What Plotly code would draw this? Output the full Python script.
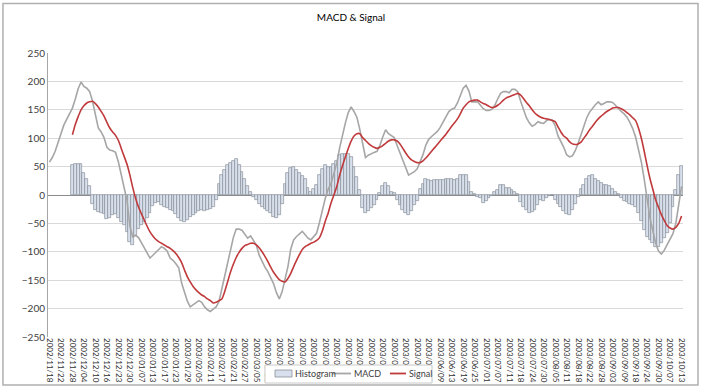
import plotly.graph_objects as go

tick_labels = [
    "2002/11/18", "2002/11/22", "2002/11/28", "2002/12/04", "2002/12/10", "2002/12/16",
    "2002/12/23", "2002/12/30", "2003/01/07", "2003/01/13", "2003/01/17", "2003/01/23",
    "2003/01/29", "2003/02/05", "2003/02/11", "2003/02/17", "2003/02/21", "2003/02/27",
    "2003/03/05", "2003/03/11", "2003/03/17", "2003/03/21", "2003/03/27", "2003/04/02",
    "2003/04/08", "2003/04/14", "2003/04/18", "2003/04/24", "2003/04/30", "2003/05/09",
    "2003/05/15", "2003/05/21", "2003/05/27", "2003/06/02", "2003/06/09", "2003/06/13",
    "2003/06/19", "2003/06/25", "2003/07/01", "2003/07/07", "2003/07/11", "2003/07/18",
    "2003/07/24", "2003/07/30", "2003/08/05", "2003/08/11", "2003/08/18", "2003/08/22",
    "2003/08/28", "2003/09/03", "2003/09/09", "2003/09/18", "2003/09/24", "2003/09/30",
    "2003/10/07", "2003/10/13",
]

series_names = ["Histogram", "MACD", "Signal"]

macd = [
    58, 66, 77, 92, 108, 123, 133, 143, 153, 169,
    187, 199, 191, 188, 182, 165, 141, 118, 111, 101,
    84, 79, 78, 75, 58, 34, 15, -10, -55, -74,
    -71, -75, -84, -93, -102, -111, -106, -101, -96, -91,
    -94, -99, -111, -115, -121, -128, -155, -172, -187, -197,
    -193, -190, -186, -189, -197, -202, -205, -201, -197, -188,
    -165, -140, -115, -95, -75, -60, -60, -62, -68, -76,
    -72, -80, -88, -106, -117, -127, -135, -146, -156, -172,
    -183, -170, -150, -126, -95, -79, -73, -68, -64, -70,
    -76, -79, -72, -67, -48, -26, -6, 10, 20, 38,
    56, 83, 106, 127, 145, 155, 147, 137, 116, 90,
    66, 70, 73, 75, 77, 87, 102, 115, 108, 104,
    101, 87, 74, 58, 46, 35, 38, 41, 46, 58,
    71, 88, 98, 103, 107, 112, 119, 128, 137, 147,
    151, 153, 162, 174, 188, 193, 183, 164, 164, 164,
    158, 152, 149, 149, 151, 158, 169, 179, 182, 182,
    180, 186, 186, 182, 165, 150, 136, 127, 121, 124,
    129, 127, 126, 131, 133, 132, 122, 104, 94, 84,
    71, 67, 69, 78, 91, 106, 122, 136, 146, 153,
    159, 164, 159, 161, 164, 164, 163, 158, 152, 147,
    143, 137, 128, 117, 102, 82, 58, 28, -10, -40,
    -63, -85, -99, -104, -97, -88, -78, -68, -50, -20,
    15,
]

signal = [None] * 8 + [
    106, 124,
    138, 150, 157, 162, 164, 165, 161, 155, 147, 139,
    128, 118, 111, 105, 96, 82, 68, 54, 35, 13,
    -6, -21, -33, -44, -55, -65, -72, -78, -82, -85,
    -88, -91, -94, -98, -103, -110, -119, -132, -144, -153,
    -161, -167, -172, -176, -179, -183, -186, -190, -189, -186,
    -183, -170, -153, -136, -122, -110, -101, -94, -89, -87,
    -85, -85, -88, -93, -100, -108, -117, -127, -136, -143,
    -149, -152, -153, -147, -138, -126, -115, -105, -96, -91,
    -88, -85, -83, -80, -75, -63, -46, -32, -14, 0,
    15, 35, 52, 67, 82, 95, 104, 108, 108, 101,
    96, 91, 87, 84, 82, 84, 87, 91, 95, 97,
    97, 95, 90, 82, 74, 67, 62, 59, 57, 57,
    60, 65, 71, 77, 83, 89, 95, 101, 107, 114,
    121, 127, 134, 143, 153, 159, 164, 166, 167, 167,
    164, 161, 159, 156, 154, 155, 158, 162, 167, 171,
    173, 175, 177, 179, 176, 170, 163, 157, 150, 144,
    140, 137, 135, 134, 133, 131, 129, 120, 111, 104,
    100, 94, 90, 89, 90, 93, 100, 107, 115, 121,
    128, 134, 139, 143, 147, 150, 153, 154, 154, 152,
    149, 145, 141, 136, 131, 118, 100, 77, 52, 29,
    10, -9, -22, -35, -45, -54, -58, -60, -57, -50,
    -37,
]

histogram = [None] * 8 + [
    53, 55,
    55, 55, 38, 28, 15, -15, -27, -30, -31, -33,
    -42, -40, -36, -33, -40, -48, -53, -65, -82, -88,
    -72, -60, -52, -47, -40, -32, -20, -14, -12, -18,
    -21, -23, -26, -29, -33, -40, -45, -47, -44, -38,
    -35, -32, -28, -26, -29, -27, -25, -21, -8, 20,
    35, 44, 53, 56, 60, 64, 53, 41, 28, 15,
    6, -3, -9, -15, -21, -25, -28, -32, -38, -41,
    -35, -15, 20, 38, 47, 49, 44, 38, 33, 29,
    12, 6, 10, 18, 35, 45, 53, 50, 50, 55,
    60, 70, 73, 73, 73, 67, 50, 32, 8, -22,
    -32, -29, -23, -17, -9, 3, 15, 22, 15, 6,
    3, -9, -17, -26, -32, -35, -29, -18, -10, 10,
    19, 28, 27, 24, 26, 27, 27, 26, 28, 29,
    28, 27, 28, 35, 36, 35, 23, 6, 2, -3,
    -6, -14, -11, -6, -2, 5, 9, 18, 18, 12,
    13, 9, 6, 2, -12, -21, -26, -31, -30, -26,
    -18, -9, -10, -5, -2, 0, -8, -15, -21, -29,
    -34, -35, -26, -15, -3, 10, 18, 28, 33, 35,
    29, 25, 21, 18, 17, 15, 10, 5, 1, -6,
    -10, -12, -15, -17, -21, -32, -45, -62, -74, -80,
    -85, -91, -91, -85, -76, -67, -50, -21, 8, 35,
    51,
]

n = len(macd)
x = list(range(n))
tick_vals = list(range(0, n, 4))[: len(tick_labels)]

FONT = "Lato, 'Liberation Sans', Arial, sans-serif"
HIST_FILL, HIST_LINE = "#D7E0EC", "#8A8F99"
MACD_COLOR, SIGNAL_COLOR = "#A6A6A6", "#C0393B"

fig = go.Figure()
fig.add_trace(go.Bar(
    x=x, y=histogram, name=series_names[0],
    marker=dict(color=HIST_FILL, line=dict(color=HIST_LINE, width=0.7)),
))
fig.add_trace(go.Scatter(
    x=x, y=macd, name=series_names[1], mode="lines",
    line=dict(color=MACD_COLOR, width=1.6),
))
fig.add_trace(go.Scatter(
    x=x, y=signal, name=series_names[2], mode="lines",
    line=dict(color=SIGNAL_COLOR, width=1.6, shape="spline", smoothing=0.6),
))

# legend box drawn at the bottom, overlapping the date labels as in the original
legend_y = -0.1285
shapes = [
    dict(type="rect", xref="paper", yref="paper",
         x0=-0.0709, x1=1.0236, y0=-0.169, y1=1.174,
         line=dict(color="#B0B0B0", width=1.5), fillcolor="rgba(0,0,0,0)", layer="below"),
    dict(type="rect", xref="paper", yref="paper",
         x0=0.3417, x1=0.6047, y0=-0.162, y1=-0.0986,
         line=dict(color="#C8C8C8", width=1), fillcolor="white", layer="above"),
    dict(type="rect", xref="paper", yref="paper",
         x0=0.3575, x1=0.3843, y0=-0.1408, y1=-0.1162,
         line=dict(color=HIST_LINE, width=0.8), fillcolor=HIST_FILL, layer="above"),
    dict(type="line", xref="paper", yref="paper",
         x0=0.4472, x1=0.4772, y0=legend_y, y1=legend_y,
         line=dict(color=MACD_COLOR, width=1.8), layer="above"),
    dict(type="line", xref="paper", yref="paper",
         x0=0.5386, x1=0.5638, y0=legend_y, y1=legend_y,
         line=dict(color=SIGNAL_COLOR, width=1.8), layer="above"),
]
annotations = [
    dict(text=series_names[0], xref="paper", yref="paper", x=0.3858, y=legend_y,
         xanchor="left", yanchor="middle", showarrow=False,
         font=dict(family=FONT, size=9, color="#404040")),
    dict(text=series_names[1], xref="paper", yref="paper", x=0.4787, y=legend_y,
         xanchor="left", yanchor="middle", showarrow=False,
         font=dict(family=FONT, size=9, color="#404040")),
    dict(text=series_names[2], xref="paper", yref="paper", x=0.5654, y=legend_y,
         xanchor="left", yanchor="middle", showarrow=False,
         font=dict(family=FONT, size=9, color="#404040")),
]

fig.update_layout(
    width=702, height=388,
    margin=dict(l=48, r=19, t=53, b=51, autoexpand=False),
    paper_bgcolor="white", plot_bgcolor="white",
    bargap=0.0,
    font=dict(family=FONT, size=10, color="#404040"),
    title=dict(text="MACD & Signal", x=0.5, xanchor="center", y=0.956, yanchor="middle",
               font=dict(family=FONT, size=10, color="#000000")),
    showlegend=False,
    xaxis=dict(
        range=[-0.5, n - 0.5], tickmode="array", tickvals=tick_vals, ticktext=tick_labels,
        tickangle=90, tickfont=dict(family=FONT, size=8, color="#303030"),
        showgrid=False, zeroline=False, showline=False, ticks="", automargin=False,
    ),
    yaxis=dict(
        range=[-250, 250], dtick=50, tick0=0,
        showgrid=True, gridcolor="#D9D9D9", gridwidth=1,
        zeroline=True, zerolinecolor="#8C8C8C", zerolinewidth=1.2,
        showline=True, linecolor="#A6A6A6", linewidth=1,
        tickfont=dict(family=FONT, size=10, color="#404040"),
        ticks="", ticklen=0, automargin=False,
    ),
    shapes=shapes,
    annotations=annotations,
)

fig.write_html(
    "out.html",
    config={"displayModeBar": False},
    post_script="document.body.style.margin='0';document.body.style.padding='0';",
)
